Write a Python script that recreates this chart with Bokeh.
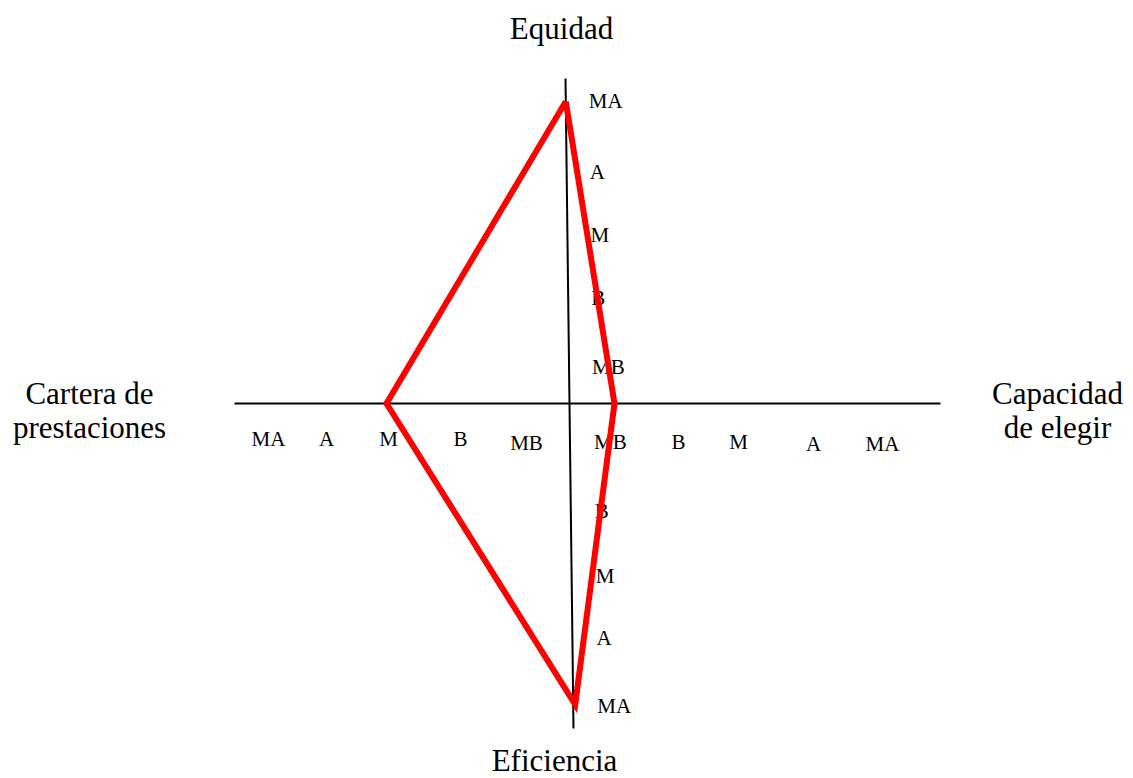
from bokeh.plotting import figure
from bokeh.models import Range1d
from bokeh.core.properties import value
from bokeh.embed import file_html
from bokeh.resources import INLINE

# ---- data ----
levels = ["MB", "B", "M", "A", "MA"]
axis_names = ["Equidad", "Capacidad de elegir", "Eficiencia", "Cartera de prestaciones"]
axis_values = ["MA", "MB", "MA", "M"]   # level reached on each axis

# ---- layout (pixel scale of each axis, one entry per level MB..MA) ----
up_pos = [367, 298, 235, 172, 101]      # y positions, Equidad
right_pos = [611, 678, 738, 813, 882]   # x positions, Capacidad de elegir
down_pos = [442, 511, 576, 638, 704]    # y positions, Eficiencia
left_pos = [526, 460, 388, 326, 268]    # x positions, Cartera de prestaciones

H_Y = 403                      # horizontal axis y
V_TOP = (565, 78)
V_BOT = (573, 728)
H_X0, H_X1 = 234, 940
DY = -8                        # text baseline correction

def vx(y):
    return V_TOP[0] + (y - V_TOP[1]) * (V_BOT[0] - V_TOP[0]) / (V_BOT[1] - V_TOP[1])

FONT = value("Liberation Serif")

p = figure(width=1133, height=778, output_backend="svg", toolbar_location=None,
           x_range=Range1d(0, 1133), y_range=Range1d(778, 0), min_border=0)
p.axis.visible = False
p.grid.visible = False
p.outline_line_color = None
p.background_fill_color = "white"

# axes lines
p.line([H_X0, H_X1], [H_Y, H_Y], line_color="black", line_width=2)
p.line([V_TOP[0], V_BOT[0]], [V_TOP[1], V_BOT[1]], line_color="black", line_width=2)

# tick labels
drawn = []
def add_label(txt, x, y, align):
    for (t, xx, yy) in drawn:
        if t == txt and abs(xx - x) < 20 and abs(yy - y) < 8:
            return
    drawn.append((txt, x, y))
    p.text([x], [y + DY], text=[txt], text_font=FONT, text_font_size="21px",
           text_align=align, text_baseline="alphabetic", text_color="black")

for lv, y in zip(levels, up_pos):
    add_label(lv, vx(y) + 23, y + 7, "left")
for lv, y in zip(levels, down_pos):
    add_label(lv, vx(y) + 24, y + 7 + (2 if lv == "MA" else 0), "left")
for lv, x in zip(levels, left_pos):
    add_label(lv, x, 446 + (4 if lv == "MB" else 0), "center")
for lv, x in zip(levels, right_pos):
    if lv == "MB":
        # coincides with the Eficiencia MB label: same text, same place
        x = vx(down_pos[0]) + 24 + 16
    add_label(lv, x, 449 + (2 if lv in ("A", "MA") else 0), "center")

# axis titles
def title(lines, x, y0, align="center"):
    for i, t in enumerate(lines):
        p.text([x], [y0 + i * 34 + DY], text=[t], text_font=FONT, text_font_size="31px",
               text_align=align, text_baseline="alphabetic", text_color="black")

title(["Equidad"], 561, 36)
title(["Capacidad", "de elegir"], 1057, 401)
title(["Cartera de", "prestaciones"], 89, 401)
p.text([554], [777], text=["Eficiencia"], text_font=FONT, text_font_size="31px",
       text_align="center", text_baseline="bottom", text_color="black")

# red polygon
iu = levels.index(axis_values[0])
ir = levels.index(axis_values[1])
idn = levels.index(axis_values[2])
il = levels.index(axis_values[3])
px = [vx(up_pos[iu]), right_pos[ir] + 3, vx(down_pos[idn]) + 2, left_pos[il] - 2]
py = [up_pos[iu], H_Y, down_pos[idn], H_Y]
p.line(px + [px[0]], py + [py[0]], line_color="#ff0000", line_width=6, line_join="miter")

open("out.html", "w").write(file_html(p, INLINE))
